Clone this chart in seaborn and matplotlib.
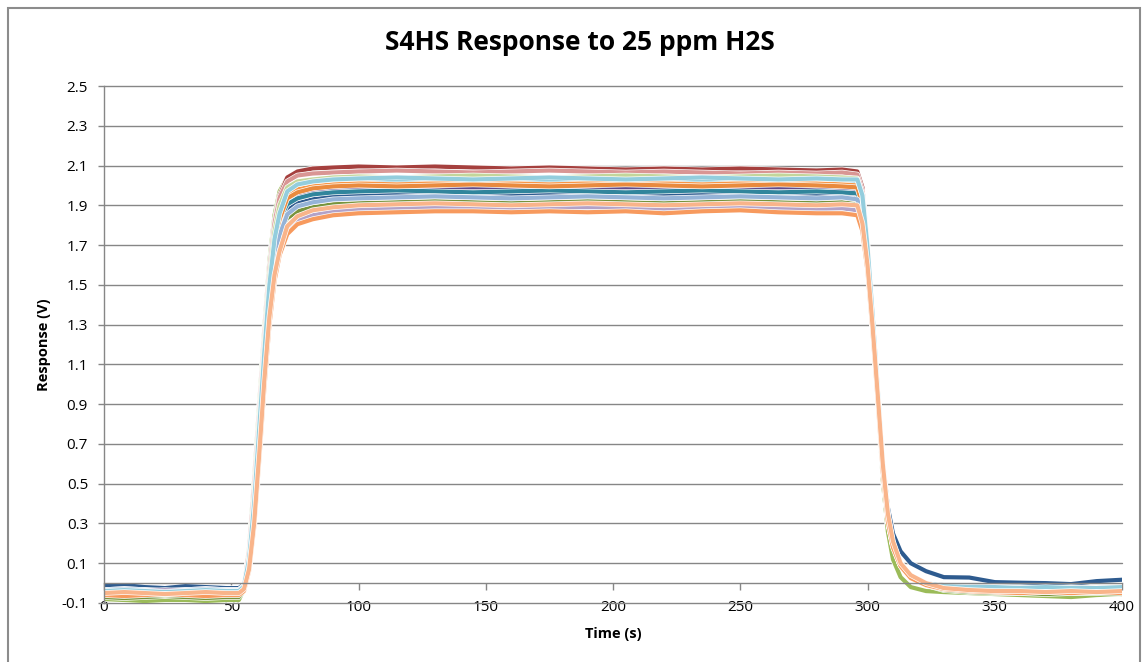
import numpy as np
import pandas as pd
import matplotlib
matplotlib.use("Agg")
import matplotlib.pyplot as plt
import matplotlib.patheffects as pe
from matplotlib.patches import Rectangle
import seaborn as sns

# ---------------- data ----------------
t = [0, 8, 16, 24, 32, 40, 48,
     53, 55, 57, 59, 61, 63, 65, 67, 69, 72, 76, 82, 90,
     100, 115, 130, 145, 160, 175, 190, 205, 220, 235, 250, 265, 280, 290,
     296, 298, 300, 302, 304, 306, 308, 310, 313, 317, 323,
     330, 340, 350, 360, 370, 380, 390, 400]

s01 = [-0.035, -0.04, -0.045, -0.04, -0.035, -0.04, -0.045,
       -0.045, -0.02, 0.10, 0.36, 0.72, 1.10, 1.44, 1.66, 1.78, 1.865, 1.90, 1.92, 1.935,
       1.94, 1.945, 1.95, 1.945, 1.94, 1.945, 1.95, 1.945, 1.94, 1.945, 1.95, 1.945, 1.94, 1.945,
       1.935, 1.845, 1.60, 1.28, 0.93, 0.57, 0.32, 0.19, 0.09, 0.03, -0.005,
       -0.02, -0.025, -0.03, -0.025, -0.03, -0.035, -0.03, -0.03]
s02 = [-0.055, -0.06, -0.07, -0.075, -0.065, -0.06, -0.06,
       -0.06, -0.03, 0.10, 0.36, 0.72, 1.10, 1.44, 1.66, 1.78, 1.845, 1.88, 1.90, 1.915,
       1.92, 1.925, 1.93, 1.925, 1.92, 1.925, 1.93, 1.925, 1.92, 1.92, 1.925, 1.93, 1.925, 1.92,
       1.915, 1.825, 1.60, 1.28, 0.93, 0.57, 0.32, 0.19, 0.09, 0.03, -0.01,
       -0.025, -0.03, -0.04, -0.045, -0.04, -0.045, -0.04, -0.045]
s03 = [-0.08, -0.085, -0.09, -0.085, -0.085, -0.09, -0.085,
       -0.085, -0.03, 0.18, 0.52, 0.90, 1.28, 1.62, 1.85, 1.97, 2.04, 2.065, 2.075, 2.08,
       2.085, 2.08, 2.085, 2.08, 2.075, 2.08, 2.075, 2.07, 2.075, 2.07, 2.065, 2.07, 2.065, 2.06,
       2.05, 1.96, 1.66, 1.30, 0.92, 0.52, 0.26, 0.12, 0.03, -0.02, -0.04,
       -0.045, -0.05, -0.055, -0.06, -0.065, -0.07, -0.06, -0.055]
s04 = [-0.05, -0.045, -0.05, -0.055, -0.05, -0.045, -0.05,
       -0.05, -0.02, 0.12, 0.40, 0.78, 1.16, 1.50, 1.73, 1.86, 1.93, 1.96, 1.975, 1.985,
       1.99, 1.985, 1.99, 1.995, 1.99, 1.985, 1.99, 1.995, 1.99, 1.985, 1.99, 1.985, 1.99, 1.985,
       1.98, 1.89, 1.65, 1.31, 0.95, 0.58, 0.32, 0.19, 0.09, 0.03, -0.01,
       -0.025, -0.035, -0.04, -0.04, -0.045, -0.045, -0.04, -0.04]
s05 = [-0.035, -0.04, -0.035, -0.04, -0.045, -0.04, -0.035,
       -0.04, -0.01, 0.12, 0.40, 0.78, 1.16, 1.50, 1.73, 1.86, 1.965, 1.995, 2.01, 2.02,
       2.025, 2.03, 2.025, 2.02, 2.025, 2.03, 2.025, 2.02, 2.025, 2.03, 2.025, 2.02, 2.025, 2.02,
       2.015, 1.925, 1.65, 1.31, 0.95, 0.58, 0.32, 0.19, 0.09, 0.03, -0.005,
       -0.015, -0.02, -0.02, -0.025, -0.02, -0.025, -0.03, -0.025]
s06 = [-0.05, -0.055, -0.05, -0.045, -0.05, -0.055, -0.05,
       -0.05, -0.02, 0.12, 0.40, 0.78, 1.16, 1.50, 1.73, 1.86, 1.95, 1.98, 1.995, 2.005,
       2.01, 2.005, 2.01, 2.015, 2.01, 2.005, 2.01, 2.015, 2.01, 2.005, 2.01, 2.015, 2.01, 2.005,
       2.0, 1.91, 1.65, 1.31, 0.95, 0.58, 0.32, 0.19, 0.09, 0.03, -0.01,
       -0.025, -0.03, -0.035, -0.04, -0.035, -0.04, -0.035, -0.04]
s07 = [-0.015, -0.01, -0.02, -0.025, -0.015, -0.02, -0.025,
       -0.025, -0.005, 0.10, 0.36, 0.72, 1.10, 1.44, 1.66, 1.78, 1.875, 1.91, 1.93, 1.945,
       1.955, 1.96, 1.955, 1.95, 1.955, 1.96, 1.955, 1.95, 1.955, 1.96, 1.955, 1.95, 1.955, 1.95,
       1.945, 1.855, 1.62, 1.30, 0.96, 0.62, 0.38, 0.25, 0.16, 0.10, 0.06,
       0.03, 0.028, 0.005, 0.002, 0.0, -0.005, 0.01, 0.017]
s08 = [-0.06, -0.055, -0.06, -0.065, -0.06, -0.055, -0.06,
       -0.06, -0.02, 0.16, 0.48, 0.86, 1.24, 1.58, 1.82, 1.95, 2.04, 2.07, 2.085, 2.09,
       2.095, 2.09, 2.095, 2.09, 2.085, 2.09, 2.085, 2.08, 2.085, 2.08, 2.085, 2.08, 2.075, 2.08,
       2.07, 1.99, 1.70, 1.34, 0.98, 0.60, 0.33, 0.19, 0.09, 0.03, 0.0,
       -0.02, -0.03, -0.035, -0.04, -0.04, -0.045, -0.04, -0.045]
s09 = [-0.07, -0.075, -0.07, -0.065, -0.07, -0.075, -0.07,
       -0.07, -0.04, 0.10, 0.36, 0.72, 1.10, 1.44, 1.66, 1.78, 1.835, 1.87, 1.89, 1.905,
       1.91, 1.915, 1.92, 1.915, 1.91, 1.915, 1.92, 1.915, 1.91, 1.915, 1.92, 1.915, 1.91, 1.915,
       1.905, 1.815, 1.60, 1.28, 0.93, 0.57, 0.32, 0.19, 0.09, 0.03, -0.01,
       -0.035, -0.045, -0.05, -0.05, -0.055, -0.05, -0.05, -0.055]
s10 = [-0.045, -0.04, -0.045, -0.05, -0.045, -0.04, -0.045,
       -0.045, -0.02, 0.11, 0.38, 0.75, 1.13, 1.47, 1.70, 1.83, 1.92, 1.95, 1.97, 1.98,
       1.985, 1.98, 1.985, 1.99, 1.985, 1.98, 1.985, 1.99, 1.985, 1.98, 1.985, 1.99, 1.985, 1.98,
       1.975, 1.885, 1.65, 1.31, 0.95, 0.58, 0.32, 0.19, 0.09, 0.03, -0.01,
       -0.02, -0.03, -0.03, -0.035, -0.03, -0.035, -0.035, -0.03]
s11 = [-0.035, -0.03, -0.035, -0.04, -0.035, -0.03, -0.035,
       -0.035, -0.01, 0.11, 0.38, 0.75, 1.13, 1.47, 1.70, 1.83, 1.905, 1.935, 1.955, 1.965,
       1.97, 1.975, 1.97, 1.965, 1.97, 1.975, 1.97, 1.965, 1.97, 1.975, 1.97, 1.965, 1.97, 1.965,
       1.96, 1.87, 1.63, 1.30, 0.94, 0.58, 0.32, 0.19, 0.09, 0.03, -0.005,
       -0.01, -0.015, -0.02, -0.02, -0.025, -0.02, -0.025, -0.02]
s12 = [-0.05, -0.05, -0.055, -0.05, -0.045, -0.05, -0.055,
       -0.055, -0.025, 0.11, 0.38, 0.75, 1.13, 1.47, 1.70, 1.83, 1.935, 1.965, 1.985, 1.995,
       2.0, 1.995, 2.0, 2.005, 2.0, 1.995, 2.0, 2.005, 2.0, 1.995, 2.0, 2.005, 2.0, 1.995,
       1.99, 1.90, 1.65, 1.31, 0.95, 0.58, 0.32, 0.19, 0.09, 0.03, -0.01,
       -0.03, -0.035, -0.04, -0.04, -0.045, -0.04, -0.04, -0.045]
s13 = [-0.035, -0.03, -0.035, -0.04, -0.035, -0.03, -0.035,
       -0.035, -0.015, 0.09, 0.34, 0.70, 1.07, 1.41, 1.63, 1.75, 1.855, 1.895, 1.915, 1.93,
       1.935, 1.94, 1.945, 1.94, 1.935, 1.94, 1.945, 1.94, 1.935, 1.94, 1.945, 1.94, 1.935, 1.94,
       1.93, 1.84, 1.60, 1.28, 0.94, 0.58, 0.33, 0.20, 0.10, 0.035, 0.0,
       -0.015, -0.02, -0.025, -0.025, -0.03, -0.025, -0.03, -0.025]
s14 = [-0.05, -0.045, -0.05, -0.055, -0.05, -0.045, -0.05,
       -0.05, -0.015, 0.16, 0.48, 0.86, 1.24, 1.58, 1.81, 1.94, 2.02, 2.05, 2.06, 2.065,
       2.07, 2.075, 2.07, 2.065, 2.07, 2.075, 2.07, 2.065, 2.07, 2.065, 2.06, 2.065, 2.06, 2.065,
       2.055, 1.97, 1.70, 1.34, 0.98, 0.60, 0.33, 0.19, 0.09, 0.03, 0.0,
       -0.02, -0.025, -0.03, -0.035, -0.03, -0.035, -0.035, -0.03]
s15 = [-0.055, -0.05, -0.055, -0.06, -0.055, -0.05, -0.055,
       -0.055, -0.02, 0.13, 0.43, 0.82, 1.20, 1.54, 1.77, 1.90, 1.99, 2.02, 2.03, 2.04,
       2.045, 2.04, 2.045, 2.05, 2.045, 2.04, 2.045, 2.05, 2.045, 2.04, 2.045, 2.05, 2.045, 2.04,
       2.035, 1.95, 1.68, 1.32, 0.96, 0.58, 0.32, 0.19, 0.09, 0.03, -0.005,
       -0.025, -0.03, -0.035, -0.04, -0.04, -0.045, -0.04, -0.04]
s16 = [-0.04, -0.045, -0.04, -0.035, -0.04, -0.045, -0.04,
       -0.04, -0.025, 0.07, 0.30, 0.65, 1.02, 1.34, 1.55, 1.67, 1.775, 1.825, 1.85, 1.87,
       1.88, 1.885, 1.89, 1.885, 1.88, 1.885, 1.89, 1.885, 1.88, 1.885, 1.89, 1.885, 1.88, 1.885,
       1.875, 1.79, 1.58, 1.27, 0.93, 0.57, 0.32, 0.19, 0.09, 0.03, -0.005,
       -0.02, -0.025, -0.03, -0.035, -0.035, -0.04, -0.035, -0.035]
s17 = [-0.04, -0.035, -0.04, -0.045, -0.04, -0.035, -0.04,
       -0.04, -0.015, 0.12, 0.40, 0.78, 1.16, 1.50, 1.73, 1.86, 1.97, 2.005, 2.02, 2.03,
       2.035, 2.04, 2.035, 2.03, 2.035, 2.04, 2.035, 2.03, 2.035, 2.04, 2.035, 2.03, 2.035, 2.03,
       2.03, 1.95, 1.69, 1.35, 0.98, 0.61, 0.34, 0.20, 0.10, 0.035, 0.0,
       -0.015, -0.02, -0.02, -0.025, -0.02, -0.025, -0.025, -0.02]
s18 = [-0.06, -0.065, -0.06, -0.055, -0.06, -0.065, -0.06,
       -0.06, -0.04, 0.06, 0.28, 0.62, 0.98, 1.30, 1.52, 1.65, 1.755, 1.805, 1.83, 1.85,
       1.86, 1.865, 1.87, 1.87, 1.865, 1.87, 1.865, 1.87, 1.86, 1.87, 1.875, 1.865, 1.86, 1.86,
       1.85, 1.77, 1.57, 1.26, 0.92, 0.56, 0.31, 0.18, 0.085, 0.025, -0.01,
       -0.03, -0.04, -0.045, -0.05, -0.045, -0.05, -0.045, -0.05]
s19 = [-0.05, -0.045, -0.05, -0.055, -0.05, -0.045, -0.05,
       -0.05, -0.03, 0.07, 0.30, 0.65, 1.02, 1.34, 1.55, 1.67, 1.795, 1.845, 1.875, 1.89,
       1.90, 1.905, 1.91, 1.905, 1.90, 1.905, 1.91, 1.905, 1.90, 1.905, 1.91, 1.905, 1.90, 1.905,
       1.90, 1.81, 1.60, 1.29, 0.95, 0.60, 0.35, 0.21, 0.10, 0.04, 0.0,
       -0.025, -0.035, -0.04, -0.04, -0.045, -0.04, -0.045, -0.04]

series = [s01, s02, s03, s04, s05, s06, s07, s08, s09, s10,
          s11, s12, s13, s14, s15, s16, s17, s18, s19]
names = ["S%02d" % (i + 1) for i in range(len(series))]
colors = ["#4F81BD", "#C0504D", "#9BBB59", "#8064A2", "#4BACC6", "#F79646",
          "#2E5B8F", "#A5403E", "#77933C", "#5F4B8B", "#31859C", "#E98A3E",
          "#95B3D7", "#D99694", "#C3D69B", "#B3A2C7", "#93CDDD", "#F79A5E",
          "#F9B48A"]

x_ticks = [0, 50, 100, 150, 200, 250, 300, 350, 400]
y_ticks = [-0.1, 0.1, 0.3, 0.5, 0.7, 0.9, 1.1, 1.3, 1.5, 1.7, 1.9, 2.1, 2.3, 2.5]
y_labels = ["-0.1", "0.1", "0.3", "0.5", "0.7", "0.9", "1.1", "1.3", "1.5",
            "1.7", "1.9", "2.1", "2.3", "2.5"]

# ---------------- build long table ----------------
rows = []
for name, vals in zip(names, series):
    for tt, v in zip(t, vals):
        rows.append((name, tt, v))
df = pd.DataFrame(rows, columns=["sensor", "time", "response"])

# ---------------- plot ----------------
sns.set_style("white")
plt.rcParams["font.family"] = ["Open Sans", "DejaVu Sans"]

W, H = 1146, 662
fig = plt.figure(figsize=(W / 100, H / 100), dpi=100)
ax = fig.add_axes([104 / W, (H - 603) / H, (1122 - 104) / W, (603 - 86) / H])

sns.lineplot(data=df, x="time", y="response", hue="sensor", hue_order=names,
             palette=dict(zip(names, colors)), estimator=None, errorbar=None,
             sort=False, linewidth=3.0, legend=False, ax=ax)

for ln in ax.get_lines():
    ln.set_path_effects([pe.Stroke(linewidth=4.0, foreground="white"), pe.Normal()])
    ln.set_solid_joinstyle("round")
    ln.set_solid_capstyle("round")

gray = "#868686"
ax.set_xlim(0, 400)
ax.set_ylim(-0.1, 2.5)
ax.set_yticks(y_ticks)
ax.set_yticklabels(y_labels)
ax.set_xticks(x_ticks)
ax.set_xticklabels([str(v) for v in x_ticks])

ax.yaxis.grid(True, color=gray, linewidth=1.0)
ax.xaxis.grid(False)
ax.set_axisbelow(True)
for gl in ax.get_ygridlines():
    gl.set_clip_on(False)

for side in ["top", "right"]:
    ax.spines[side].set_visible(False)
ax.spines["left"].set_color(gray)
ax.spines["left"].set_linewidth(1.0)
ax.spines["bottom"].set_position(("data", 0))
ax.spines["bottom"].set_color(gray)
ax.spines["bottom"].set_linewidth(1.0)

ax.tick_params(axis="y", direction="out", length=4.5, width=1.0, color=gray,
               pad=7, labelsize=11, labelcolor="black", left=True)
ax.tick_params(axis="x", direction="out", length=5, width=1.0, color=gray,
               pad=7, labelsize=11, labelcolor="black", bottom=True)

ax.set_xlabel("")
ax.set_ylabel("")
fig.text(580 / W, 1 - 42 / H, "S4HS Response to 25 ppm H2S", ha="center", va="center",
         fontsize=19, fontweight="bold", color="black")
fig.text(613 / W, 1 - 634 / H, "Time (s)", ha="center", va="center",
         fontsize=10.5, fontweight="bold", color="black")
fig.text(44 / W, 1 - 345 / H, "Response (V)", ha="center", va="center",
         rotation=90, fontsize=10.5, fontweight="bold", color="black")

# outer chart frame
fig.patches.append(Rectangle((8 / W, -0.05), (1140 - 8) / W, 1.05 - 8 / H,
                             transform=fig.transFigure, fill=False,
                             edgecolor="#8C8C8C", linewidth=1.5))

fig.savefig("out.png", dpi=100, facecolor="white")
